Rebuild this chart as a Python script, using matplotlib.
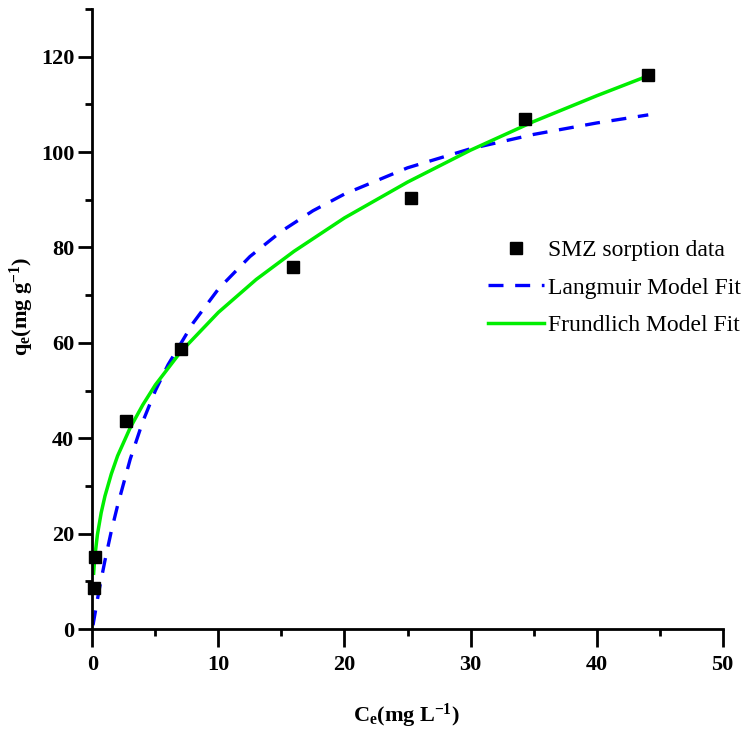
import matplotlib
matplotlib.use('Agg')
import matplotlib.pyplot as plt
from matplotlib.ticker import MultipleLocator

# measured sorption points
ce_data = [0.1, 0.2, 2.65, 7.0, 15.9, 25.3, 34.3, 44.1]
qe_data = [8.5, 15.0, 43.6, 58.8, 75.8, 90.4, 107.0, 116.2]

# Langmuir fit curve
ce_lang = [0.05, 0.5, 1, 1.5, 2, 3, 4, 5, 6, 8, 10, 12.5, 15, 17.5, 20, 25, 30, 35, 40, 44.1]
qe_lang = [0.8, 7.7, 14.4, 20.5, 25.9, 35.6, 43.5, 50.0, 55.4, 64.2, 71.3, 78.1, 83.4,
           87.7, 91.2, 96.7, 100.7, 103.7, 106.1, 107.8]

# Freundlich fit curve
ce_freu = [0.1, 0.2, 0.4, 0.7, 1, 1.5, 2, 3, 4, 5, 7, 10, 13, 16, 20, 25, 30, 35, 40, 44.1]
qe_freu = [11.7, 15.3, 19.8, 24.4, 27.9, 32.5, 36.3, 42.2, 47.0, 51.2, 58.1, 66.4, 73.3,
           79.2, 86.2, 93.7, 100.4, 106.4, 111.8, 116.0]

plt.rcParams['font.family'] = 'Liberation Serif'
plt.rcParams['mathtext.fontset'] = 'custom'
plt.rcParams['mathtext.rm'] = 'Liberation Serif'
plt.rcParams['mathtext.it'] = 'Liberation Serif:italic'
plt.rcParams['mathtext.bf'] = 'Liberation Serif:bold'

fig = plt.figure(figsize=(7.45, 7.37), dpi=100)
ax = fig.add_axes([0.124, 0.1465, 0.846, 0.8413])

ax.plot(ce_data, qe_data, 's', color='black', markersize=8.5, label='SMZ sorption data',
        zorder=3, clip_on=False)
ax.plot(ce_lang, qe_lang, color='#0000ff', linewidth=2.4, dashes=(4.5, 3.5), label='Langmuir Model Fit')
ax.plot(ce_freu, qe_freu, color='#00ee00', linewidth=2.5, label='Frundlich Model Fit')

ax.set_xlim(0, 50)
ax.set_ylim(0, 130)
ax.xaxis.set_major_locator(MultipleLocator(10))
ax.xaxis.set_minor_locator(MultipleLocator(5))
ax.yaxis.set_major_locator(MultipleLocator(20))
ax.yaxis.set_minor_locator(MultipleLocator(10))

ax.spines['top'].set_visible(False)
ax.spines['right'].set_visible(False)
for s in ['left', 'bottom']:
    ax.spines[s].set_linewidth(2)

ax.tick_params(which='major', direction='out', length=10, width=2, labelsize=16)
ax.tick_params(which='minor', direction='out', length=5, width=2)
ax.tick_params(axis='x', which='major', length=13, pad=6)
ax.tick_params(axis='y', which='major', pad=3)
for lab in ax.get_xticklabels() + ax.get_yticklabels():
    lab.set_fontweight('bold')

ax.set_xlabel(r'$\mathbf{C_e(mg\ L^{-1})}$', fontsize=16)
ax.set_ylabel(r'$\mathbf{q_e(mg\ g^{-1})}$', fontsize=16)
ax.xaxis.set_label_coords(0.4976, -0.118)
ax.yaxis.set_label_coords(-0.09, 0.521)

leg = ax.legend(loc='upper left', bbox_to_anchor=(0.6135, 0.6435), frameon=False,
                fontsize=17, handlelength=2.33, handletextpad=0.2, labelspacing=0.68,
                borderaxespad=0)

fig.savefig('out.png', dpi=100)
